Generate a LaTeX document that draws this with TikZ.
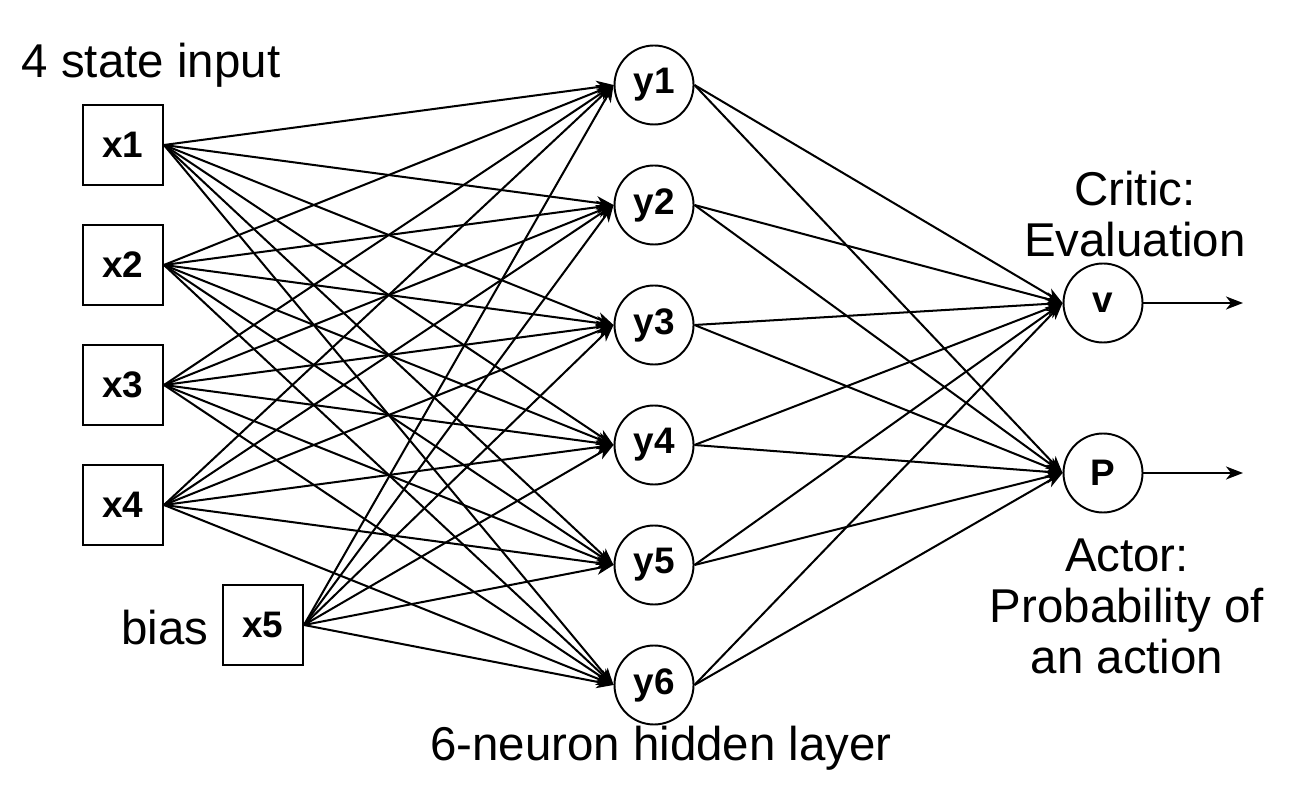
\documentclass[tikz,border=0pt]{standalone}
\usepackage{fontspec}
\setmainfont{Liberation Sans}
\usetikzlibrary{arrows.meta,positioning}

\begin{document}
\begin{tikzpicture}[
  lbl/.style={font=\fontsize{27}{29}\selectfont, align=center, inner sep=0pt},
  inbox/.style={draw, line width=1.1pt, minimum size=1.6cm, inner sep=0pt,
                font=\fontsize{21}{24}\selectfont\bfseries},
  neuron/.style={draw, circle, line width=1.1pt, minimum size=1.58cm, inner sep=0pt,
                 font=\fontsize{21}{24}\selectfont\bfseries},
  wire/.style={-{Stealth[length=3.4mm,width=2.6mm,inset=1mm]}, line width=1.15pt},
]
\useasboundingbox (0,0) rectangle (26.24,15.76);

% ---------------- input layer ----------------
\node[inbox] (x1) at (2.46,12.86) {x1};
\node[inbox] (x2) at (2.46,10.46) {x2};
\node[inbox] (x3) at (2.46,8.06) {x3};
\node[inbox] (x4) at (2.46,5.66) {x4};
\node[inbox] (x5) at (5.26,3.26) {x5};

\node[lbl] (inTitle) at (3.02,14.46) {4 state input};
\node[lbl] (bias) at (3.30,3.20) {bias};

% ---------------- hidden layer ----------------
\foreach \i/\y in {1/14.06, 2/11.66, 3/9.26, 4/6.86, 5/4.46, 6/2.06}{
  \node[neuron] (y\i) at (13.08,\y) {y\i};}

\node[lbl] (hidTitle) at (13.22,0.80) {6-neuron hidden layer};

% ---------------- outputs ----------------
\node[neuron] (v) at (22.06,9.70) {v};
\node[neuron] (P) at (22.06,6.30) {P};
\coordinate (vOut) at (24.86,9.70);
\coordinate (POut) at (24.86,6.30);

\node[lbl] (critic) at (22.70,11.48) {Critic:\\Evaluation};
\node[lbl] (actor) at (22.54,3.64) {Actor:\\Probability of\\an action};

% ---------------- connections ----------------
\foreach \a in {1,...,5}{
  \foreach \b in {1,...,6}{
    \draw[wire] (x\a.east) -- (y\b.west);}}
\foreach \b in {1,...,6}{
  \draw[wire] (y\b.east) -- (v.west);
  \draw[wire] (y\b.east) -- (P.west);}
\draw[wire] (v.east) -- (vOut);
\draw[wire] (P.east) -- (POut);

\end{tikzpicture}
\end{document}
